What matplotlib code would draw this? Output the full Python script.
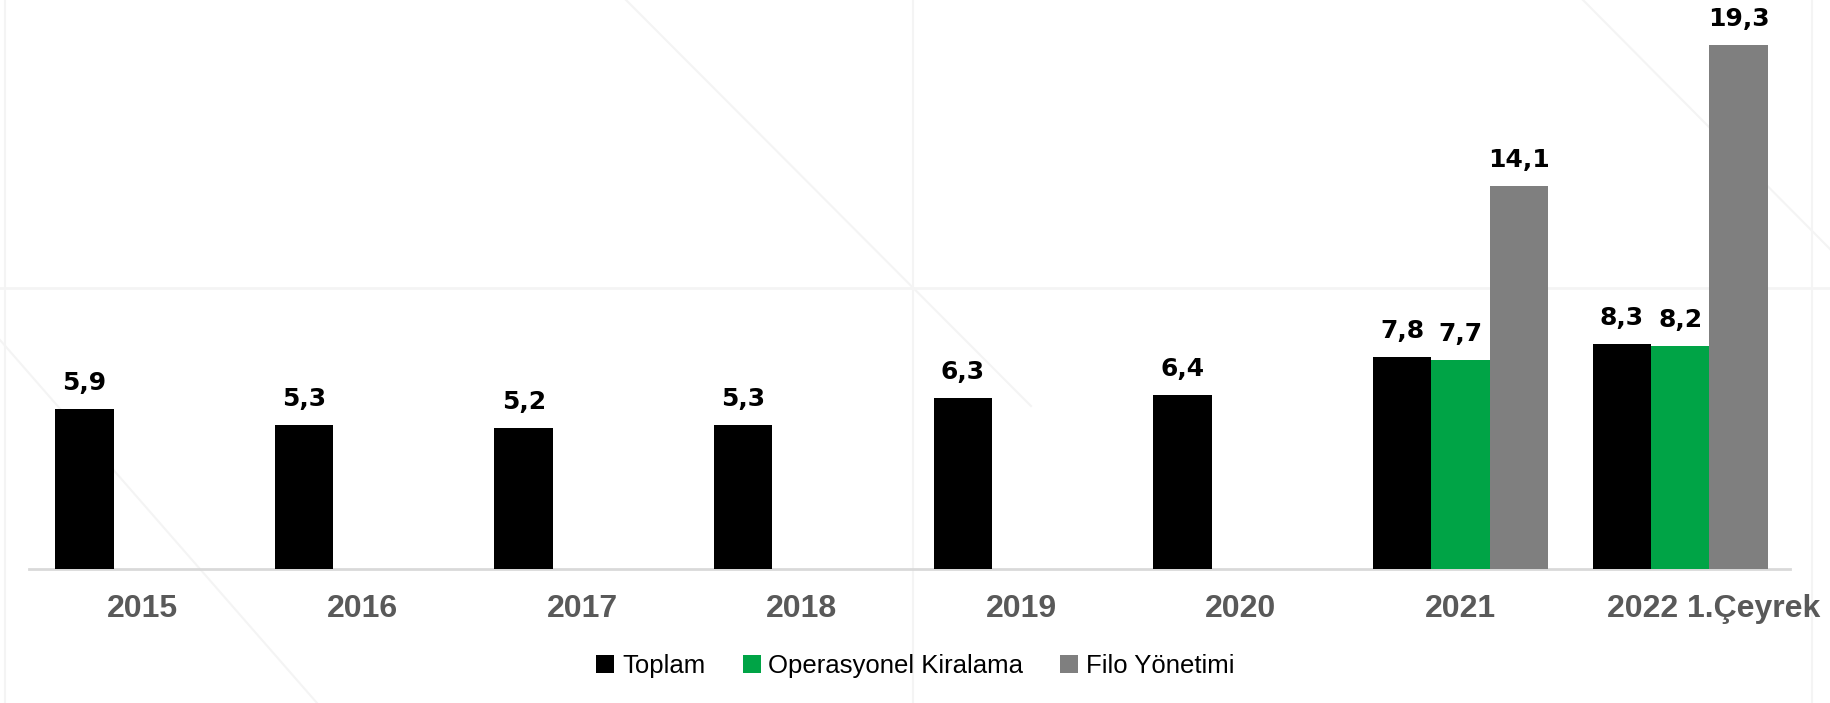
import matplotlib.pyplot as plt
import matplotlib.transforms as mtransforms
from matplotlib.lines import Line2D
import numpy as np

# data
categories = ['2015', '2016', '2017', '2018', '2019', '2020', '2021', '2022 1.Çeyrek']
toplam = [5.9, 5.3, 5.2, 5.3, 6.3, 6.4, 7.8, 8.3]
operasyonel = [np.nan, np.nan, np.nan, np.nan, np.nan, np.nan, 7.7, 8.2]
filo = [np.nan, np.nan, np.nan, np.nan, np.nan, np.nan, 14.1, 19.3]
series_names = ['Toplam', 'Operasyonel Kiralama', 'Filo Yönetimi']
colors = ['#000000', '#00a446', '#7f7f7f']

W, H = 1831, 703
fig = plt.figure(figsize=(W / 100, H / 100), dpi=100)
fig.patch.set_facecolor('white')

# faint background lines of the slide
faint = '#f4f4f4'
def fline(x, y, lw=1.5):
    fig.add_artist(Line2D([v / W for v in x], [1 - v / H for v in y], color=faint, lw=lw, zorder=0))
fline([5, 5], [0, 703])
fline([1812, 1812], [0, 703])
fline([0, 1831], [288, 288], lw=2)
fline([913, 913], [0, 703])
fline([626, 1031], [0, 406])
fline([0, 317], [340, 703])
fline([1583, 1831], [0, 250])

ax = fig.add_axes([33 / W, (H - 569) / H, (1790 - 33) / W, 569 / H])
ax.set_facecolor('none')

x = np.arange(len(categories))
w = 0.266
for i, (vals, c) in enumerate(zip([toplam, operasyonel, filo], colors)):
    bars = ax.bar(x + (i - 1) * w, vals, w, color=c, label=series_names[i], zorder=3)
    for b, v in zip(bars, vals):
        if np.isnan(v):
            continue
        ax.annotate(('%.1f' % v).replace('.', ','), (b.get_x() + b.get_width() / 2, v),
                    xytext=(0, 10), textcoords='offset points', ha='center', va='bottom',
                    fontsize=18, fontweight='bold', color='black', family='DejaVu Sans')

ax.set_xlim(-0.5, len(categories) - 0.5)
ax.set_ylim(0, 569 / 27.15)
ax.set_xticks(x)
ax.set_xticklabels(categories, fontsize=23, fontweight='bold', color='#595959', family='Liberation Sans')
ax.tick_params(axis='x', length=0, pad=18)
ax.set_yticks([])
for s in ['top', 'right', 'left']:
    ax.spines[s].set_visible(False)
ax.spines['bottom'].set_color('#d9d9d9')
ax.spines['bottom'].set_linewidth(2)
ax.spines['bottom'].set_bounds(-0.52, len(categories) - 0.5)

# last label sits a bit to the right in the reference
lab = ax.get_xticklabels()[-1]
lab.set_transform(lab.get_transform() + mtransforms.ScaledTranslation(0.33, 0, fig.dpi_scale_trans))

fig.legend(loc='center', bbox_to_anchor=(0.5, 1 - 666 / H), ncol=3, frameon=False,
           prop={'family': 'Liberation Sans', 'size': 18.5}, handlelength=0.7, handleheight=0.7,
           handletextpad=0.3, columnspacing=1.45)

plt.savefig('out.png', dpi=100, facecolor='white')
